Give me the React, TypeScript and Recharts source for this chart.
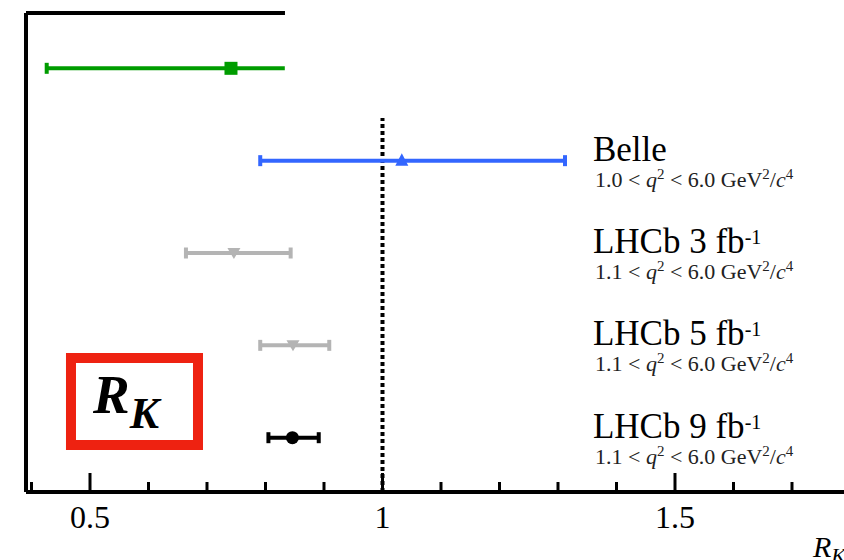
import {
  ErrorBar,
  ReferenceArea,
  ReferenceLine,
  Scatter,
  ScatterChart,
  XAxis,
  YAxis,
} from 'recharts';

const SERIF = '"Liberation Serif", "Times New Roman", serif';

// one row per measurement, top to bottom
const ROWS = [4, 3, 2, 1, 0];
const RK_VALUES = [0.741, 1.033, 0.746, 0.847, 0.846];
const ERR_LOW = [0.315, 0.242, 0.082, 0.056, 0.041];
const ERR_HIGH = [0.092, 0.279, 0.097, 0.062, 0.045];
const COLORS = ['#009c00', '#3366ff', '#b4b4b4', '#b4b4b4', '#000000'];
const MARKERS = ['square', 'triangleUp', 'triangleDown', 'triangleDown', 'circle'];

const TITLES = ['', 'Belle', 'LHCb 3 fb', 'LHCb 5 fb', 'LHCb 9 fb'];
const TITLE_SUPS = ['', '', '-1', '-1', '-1'];
const Q2_MIN = ['', '1.0', '1.1', '1.1', '1.1'];

const X_TICKS = [0.4, 0.5, 0.6, 0.7, 0.8, 0.9, 1, 1.1, 1.2, 1.3, 1.4, 1.5, 1.6, 1.7];
const X_MAJOR = [0.5, 1, 1.5];

const X_DOMAIN: [number, number] = [0.3906, 1.7889];
const Y_DOMAIN: [number, number] = [-0.588, 4.599];
const LABEL_X = 1.3598;

function Marker({ cx, cy, kind, color }: any) {
  if (kind === 'square') return <rect x={cx - 6.5} y={cy - 6.5} width={13} height={13} fill={color} />;
  if (kind === 'circle') return <circle cx={cx} cy={cy} r={6.5} fill={color} />;
  if (kind === 'triangleUp')
    return <path d={`M${cx - 6.5},${cy + 5} L${cx + 6.5},${cy + 5} L${cx},${cy - 7.5} Z`} fill={color} />;
  return <path d={`M${cx - 6.5},${cy - 5} L${cx + 6.5},${cy - 5} L${cx},${cy + 6} Z`} fill={color} />;
}

function RowLabel(props: any) {
  const { cx, cy, payload } = props;
  if (!payload.title) return <g />;
  return (
    <g fontFamily={SERIF}>
      <text x={cx} y={cy} fontSize={35} fill="#000">
        {payload.title}
        {payload.sup ? (
          <tspan dy={-9} fontSize={20}>
            {payload.sup}
          </tspan>
        ) : null}
      </text>
      <text x={cx + 2} y={cy + 26} fontSize={22} fill="#222">
        {`${payload.q2} < `}
        <tspan fontStyle="italic">q</tspan>
        <tspan dy={-8} fontSize={15}>2</tspan>
        <tspan dy={8}>{' < 6.0 GeV'}</tspan>
        <tspan dy={-8} fontSize={15}>2</tspan>
        <tspan dy={8}>/</tspan>
        <tspan fontStyle="italic">c</tspan>
        <tspan dy={-8} fontSize={15}>4</tspan>
      </text>
    </g>
  );
}

function XTick({ x, y, payload }: any) {
  const major = X_MAJOR.some((m) => Math.abs(m - payload.value) < 1e-6);
  return (
    <g>
      <line x1={x} x2={x} y1={y} y2={y - (major ? 19 : 10)} stroke="#000" strokeWidth={3} />
      {major && (
        <text x={x} y={y + 36} textAnchor="middle" fontFamily={SERIF} fontSize={32} fill="#000">
          {String(payload.value)}
        </text>
      )}
    </g>
  );
}

export default function App() {
  const points = ROWS.map((row, i) => ({
    x: RK_VALUES[i],
    y: row,
    err: [ERR_LOW[i], ERR_HIGH[i]],
    errLeft: [ERR_LOW[i], 0],
    errRight: [0, ERR_HIGH[i]],
  }));
  const labels = ROWS.map((row, i) => ({
    x: LABEL_X,
    y: row,
    title: TITLES[i],
    sup: TITLE_SUPS[i],
    q2: Q2_MIN[i],
  }));

  return (
    <div style={{ position: 'absolute', left: 0, top: 0, width: 844, height: 560 }}>
      <ScatterChart width={844} height={560} margin={{ top: 13, right: 0, bottom: 0, left: 1 }}>
        <XAxis
          type="number"
          dataKey="x"
          domain={X_DOMAIN}
          allowDataOverflow
          ticks={X_TICKS}
          interval={0}
          height={68}
          tickSize={0}
          tickMargin={0}
          tickLine={false}
          tick={<XTick />}
          axisLine={{ stroke: '#000', strokeWidth: 4 }}
          label={(p: any) => {
            const vb = p.viewBox;
            return (
              <text x={vb.x + vb.width - 31} y={vb.y + 65} fontFamily={SERIF} fontStyle="italic" fontSize={30}>
                R<tspan dy={6} fontSize={22}>K</tspan>
              </text>
            );
          }}
        />
        <YAxis
          type="number"
          dataKey="y"
          domain={Y_DOMAIN}
          allowDataOverflow
          width={25}
          tick={false}
          tickLine={false}
          axisLine={{ stroke: '#000', strokeWidth: 4 }}
        />
        <ReferenceLine
          segment={[
            { x: X_DOMAIN[0], y: Y_DOMAIN[1] },
            { x: 0.8333, y: Y_DOMAIN[1] },
          ]}
          stroke="#000"
          strokeWidth={4}
          ifOverflow="visible"
        />
        <ReferenceLine
          segment={[
            { x: 1, y: Y_DOMAIN[0] },
            { x: 1, y: 3.462 },
          ]}
          stroke="#000"
          strokeWidth={4}
          strokeDasharray="4 3"
          ifOverflow="visible"
        />
        <ReferenceArea
          x1={0.4675}
          x2={0.6846}
          y1={-0.079}
          y2={0.863}
          fill="none"
          stroke="#ee2211"
          strokeWidth={10}
          fillOpacity={0}
          strokeOpacity={1}
          label={(p: any) => {
            const vb = p.viewBox;
            return (
              <text
                x={vb.x + 22}
                y={vb.y + 55}
                fontFamily={SERIF}
                fontStyle="italic"
                fontWeight="bold"
                fontSize={55}
                fill="#000"
              >
                R<tspan dy={15} fontSize={44}>K</tspan>
              </text>
            );
          }}
        />
        {points.map((pt, i) => (
          <Scatter
            key={i}
            data={[pt]}
            isAnimationActive={false}
            shape={(p: any) => <Marker cx={p.cx} cy={p.cy} kind={MARKERS[i]} color={COLORS[i]} />}
          >
            {i === 0 ? (
              <ErrorBar dataKey="errLeft" direction="x" width={5.5} strokeWidth={4} stroke={COLORS[i]} isAnimationActive={false} />
            ) : null}
            {i === 0 ? (
              <ErrorBar dataKey="errRight" direction="x" width={0} strokeWidth={4} stroke={COLORS[i]} isAnimationActive={false} />
            ) : (
              <ErrorBar dataKey="err" direction="x" width={5.5} strokeWidth={4} stroke={COLORS[i]} isAnimationActive={false} />
            )}
          </Scatter>
        ))}
        <Scatter data={labels} isAnimationActive={false} shape={<RowLabel />} />
      </ScatterChart>
    </div>
  );
}
